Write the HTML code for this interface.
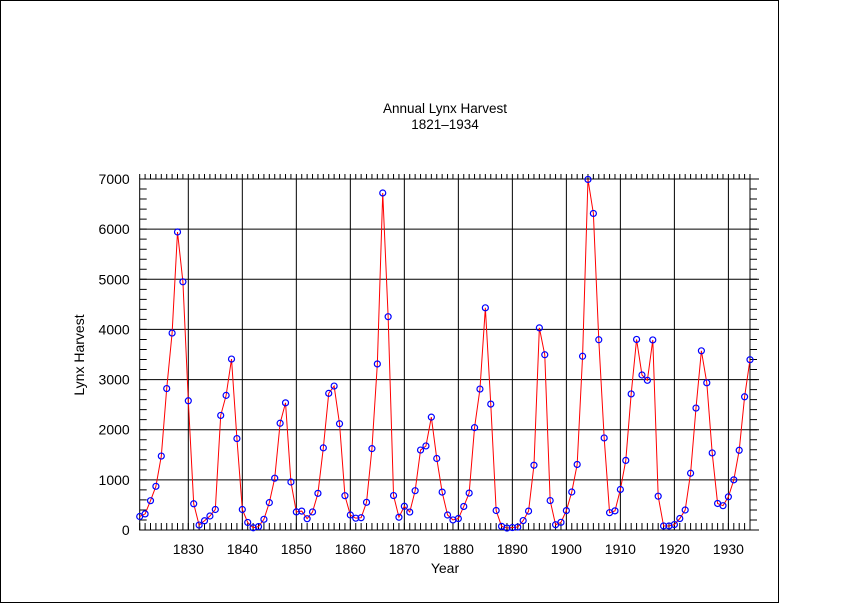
<!DOCTYPE html>
<html><head><meta charset="utf-8"><style>
html,body{margin:0;padding:0;background:#fff;}
svg{display:block;font-family:"Liberation Sans","DejaVu Sans",sans-serif;}
</style></head><body>
<svg id="chart" width="853" height="603">
<rect x="0.5" y="0.5" width="778" height="602" fill="#fff" stroke="#000"/>
<text x="445" y="113" text-anchor="middle" font-size="13.5">Annual Lynx Harvest</text>
<text x="445" y="129" text-anchor="middle" font-size="13.5">1821–1934</text>
<text x="445" y="573" text-anchor="middle" font-size="14">Year</text>
<text transform="translate(84,355) rotate(-90)" text-anchor="middle" font-size="14">Lynx Harvest</text>
<g id="grid"></g><g id="ticks"></g><g id="series"></g>
</svg>
<script>
const startYear = 1821;
const harvest = [269,321,585,871,1475,2821,3928,5943,4950,2577,523,98,184,279,409,2285,2685,3409,1824,409,151,45,68,213,546,1033,2129,2536,957,361,377,225,360,731,1638,2725,2871,2119,684,299,236,245,552,1623,3311,6721,4254,687,255,473,358,784,1594,1676,2251,1426,756,299,201,229,469,736,2042,2811,4431,2511,389,73,39,49,59,188,377,1292,4031,3495,587,105,153,387,758,1307,3465,6991,6313,3794,1836,345,382,808,1388,2713,3800,3091,2985,3790,674,81,80,108,229,399,1132,2432,3574,2935,1537,529,485,662,1000,1590,2657,3396];
const xTicks = [1830,1840,1850,1860,1870,1880,1890,1900,1910,1920,1930];
const yTicks = [0,1000,2000,3000,4000,5000,6000,7000];
const NS="http://www.w3.org/2000/svg";
const L=139.7,R=750,T=179,B=530;
const x0=1821,x1=1934,yMax=7000;
const X=v=>L+(v-x0)/(x1-x0)*(R-L);
const Y=v=>B-v/yMax*(B-T);
function mk(tag,attrs,parent){const e=document.createElementNS(NS,tag);for(const k in attrs)e.setAttribute(k,attrs[k]);parent.appendChild(e);return e;}
const grid=document.getElementById('grid'),ticks=document.getElementById('ticks'),series=document.getElementById('series');
xTicks.forEach(t=>{
  const l=mk('line',{x1:X(t),x2:X(t),y1:T,y2:B,stroke:'#000','stroke-width':1},grid);
  
  
  const tx=mk('text',{x:X(t),y:B+24,'text-anchor':'middle','font-size':14},ticks);
  tx.textContent=t;
  
  
});
yTicks.forEach(t=>{
  const l=mk('line',{x1:L,x2:R+9,y1:Y(t),y2:Y(t),stroke:'#000','stroke-width':1},grid);
  
  
  const tx=mk('text',{x:L-10,y:Y(t)+5,'text-anchor':'end','font-size':14},ticks);
  tx.textContent=t;
  
  
});
let d='';
for(let yr=x0;yr<=x1;yr++){d+=`M${X(yr)},${B}V${B-7}M${X(yr)},${T}V${T-5}`;}
for(let v=0;v<=yMax;v+=200){d+=`M${L},${Y(v)}H${L+7}M${R},${Y(v)}H${R+7}`;}
const tk=mk('path',{d:d,stroke:'#000','stroke-width':1,fill:'none'},ticks);


const fr=mk('rect',{x:L,y:T,width:R-L,height:B-T,fill:'none',stroke:'#000','stroke-width':1},ticks);


const pts=harvest.map((v,i)=>`${X(startYear+i)},${Y(v)}`).join(' ');
const pl=mk('polyline',{points:pts,fill:'none',stroke:'#f00','stroke-width':1},series);


harvest.forEach((v,i)=>{
  const c=mk('circle',{cx:X(startYear+i),cy:Y(v),r:3,fill:'none',stroke:'#00f','stroke-width':1.2},series);
  
  
});
</script>
</body></html>
